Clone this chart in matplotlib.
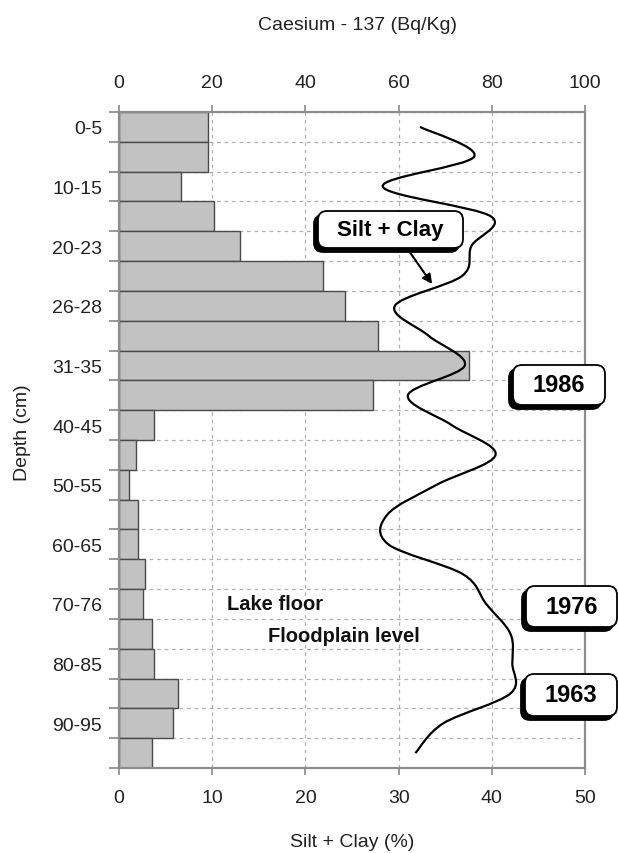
import matplotlib.pyplot as plt
from matplotlib.patches import FancyBboxPatch, PathPatch
from matplotlib.path import Path
import numpy as np

W, H = 618, 854

# Caesium-137 per sample slice (Bq/Kg), top to bottom
caesium = [19, 19, 13.3, 20.4, 26, 43.8, 48.5, 55.6, 75, 54.5, 7.5,
           3.6, 2.1, 4.0, 4.0, 5.6, 5.1, 7.1, 7.5, 12.7, 11.6, 7.1]
depth_labels = ["0-5", "10-15", "20-23", "26-28", "31-35", "40-45",
                "50-55", "60-65", "70-76", "80-85", "90-95"]

# silt + clay (%) for the same slices
silt_clay = [32.3, 38.1, 28.3, 39.9, 37.8, 36.8, 29.6, 33.2, 37.1, 31.0,
             35.7, 40.4, 34.1, 28.8, 28.9, 36.9, 39.4, 42.0, 42.2, 42.0,
             34.8, 31.8]

plt.rcParams['font.family'] = ['Liberation Sans', 'DejaVu Sans']


def smooth_path(xs, ys):
    # Excel-style smoothed line (Catmull-Rom as cubic Bezier)
    pts = np.column_stack([xs, ys])
    verts = [pts[0]]
    codes = [Path.MOVETO]
    last = len(pts) - 1
    for i in range(last):
        p0 = pts[max(i - 1, 0)]
        p1 = pts[i]
        p2 = pts[i + 1]
        p3 = pts[min(i + 2, last)]
        verts += [p1 + (p2 - p0) / 6, p2 - (p3 - p1) / 6, p2]
        codes += [Path.CURVE4] * 3
    return Path(verts, codes)


fig = plt.figure(figsize=(W / 100, H / 100), dpi=100)
ax = fig.add_axes([119 / W, 1 - 769 / H, 466 / W, 656 / H])

n = len(caesium)
pos = np.arange(n) + 0.5
ax.barh(pos, caesium, height=1.0, color='#c2c2c2', edgecolor='#4a4a4a',
        linewidth=1.0, zorder=2)
ax.set_xlim(0, 100)
ax.set_ylim(n, 0)
ax.set_xticks(np.arange(0, 101, 20))
ax.set_yticks(np.arange(0, n + 1))
ax.set_yticklabels([])
ax.set_yticks(pos[::2], minor=True)
ax.set_yticklabels(depth_labels, minor=True)
ax.tick_params(axis='y', which='major', length=7, color='#888888', width=1.2)
ax.tick_params(axis='y', which='minor', length=0, pad=12, labelsize=14,
               labelcolor='#222222')
ax.grid(True, which='major', linestyle=(0, (3, 3)), color='#b0b0b0', lw=0.9)
ax.set_axisbelow(True)
for s in ax.spines.values():
    s.set_color('#8c8c8c')
    s.set_linewidth(1.6)

ax2 = ax.twiny()
ax2.add_patch(PathPatch(smooth_path(silt_clay, pos), fill=False,
                        ec='black', lw=1.6, zorder=3))
ax2.set_xlim(0, 50)
ax2.set_xticks(np.arange(0, 51, 10))
ax2.xaxis.set_ticks_position('bottom')
ax.xaxis.set_ticks_position('top')
for a in (ax, ax2):
    a.tick_params(axis='x', length=5, color='#888888', width=1.2,
                  labelsize=14, labelcolor='#222222', pad=10)
for s in ax2.spines.values():
    s.set_visible(False)

ax2.annotate('', xy=(33.6, 5.77), xytext=(31.2, 4.7),
             arrowprops=dict(arrowstyle='-|>', color='black', lw=1.5,
                             mutation_scale=14, shrinkA=0, shrinkB=0))

fig.text(357 / W, 1 - 25 / H, "Caesium - 137 (Bq/Kg)", ha='center',
         va='center', fontsize=14, color='#222222')
fig.text(352 / W, 1 - 843 / H, "Silt + Clay (%)", ha='center',
         va='center', fontsize=14, color='#222222')
fig.text(23 / W, 1 - 433 / H, "Depth (cm)", ha='center', va='center',
         rotation=90, fontsize=14, color='#222222')


def shadow_box(x0, y0, x1, y1, text, size):
    # box given in pixels measured from the top-left corner
    for dx, dy, fc in [(-4, 4, 'black'), (0, 0, 'white')]:
        p = FancyBboxPatch(((x0 + dx) / 100, (H - y1 - dy) / 100),
                           (x1 - x0) / 100, (y1 - y0) / 100,
                           boxstyle="round,pad=0,rounding_size=0.09",
                           transform=fig.dpi_scale_trans, fc=fc,
                           ec='black', lw=1.3)
        fig.add_artist(p)
    fig.text((x0 + x1) / 2 / W, 1 - (y0 + y1) / 2 / H, text, ha='center',
             va='center', fontsize=size, fontweight='bold')


shadow_box(318, 212, 463, 249, "Silt + Clay", 16)
shadow_box(513, 366, 605, 406, "1986", 17)
shadow_box(526, 587, 617, 628, "1976", 17)
shadow_box(525, 675, 617, 717, "1963", 17)

fig.text(227 / W, 1 - 605 / H, "Lake floor", ha='left', va='center',
         fontsize=14.5, fontweight='bold', color='#111111')
fig.text(268 / W, 1 - 636 / H, "Floodplain level", ha='left', va='center',
         fontsize=14.5, fontweight='bold', color='#111111')

fig.savefig('out.png', dpi=100)
